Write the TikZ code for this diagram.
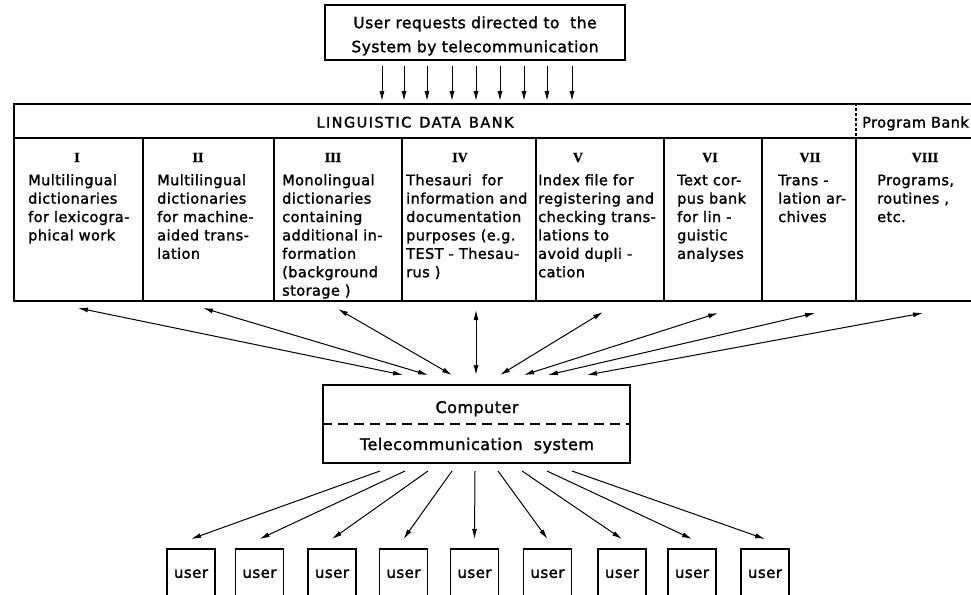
\documentclass[tikz,border=0pt]{standalone}
\usepackage{fontspec}
\setmainfont{DejaVu Sans}[LetterSpace=3.0, FakeBold=1.6]
\newfontfamily\numfont{Liberation Serif}[FakeBold=0.8]
\newfontfamily\hdrfont{DejaVu Sans}[LetterSpace=10.0, FakeBold=1.6]
\usetikzlibrary{arrows.meta}
\begin{document}
\begin{tikzpicture}[x=1pt,y=-1pt,
  framed/.style={draw, line width=1.7pt, inner sep=0pt},
  gridln/.style={line width=1.7pt},
  coltext/.style={anchor=north west, inner sep=0pt, align=left, font=\fontsize{14.5}{18.4}\selectfont},
  numeral/.style={anchor=base, inner sep=0pt, font=\numfont\bfseries\fontsize{14}{14}\selectfont},
  arr/.style={line width=1pt, -{Latex[length=10pt,width=5pt]}},
  barr/.style={line width=1pt, {Latex[length=10pt,width=5pt]}-{Latex[length=10pt,width=5pt]}},
  userbox/.style={draw, line width=1.5pt, inner sep=0pt, minimum width=48pt, minimum height=50pt, anchor=north, font=\fontsize{15}{15}\selectfont}
]
\useasboundingbox (0,0) rectangle (971,594);
\fill[white] (0,0) rectangle (971,594);

% request box
\node[framed, minimum width=300pt, minimum height=55pt] (req) at (475,32.5) {};
\node[anchor=north, inner sep=0pt, align=center, font=\fontsize{15.5}{24}\selectfont] (reqtxt) at (475,16)
  {\rule{0pt}{12pt}User requests directed to\ \ the\\System by telecommunication};

% data bank
\node[framed, minimum width=967pt, minimum height=197pt, anchor=north west] (bank) at (13,103) {};
\draw[gridln] (13,138) -- (980,138);
\foreach \x in {143,274,402,536,664,762,856} \draw[gridln] (\x,138) -- (\x,300);
\draw[line width=1.2pt, dash pattern=on 3pt off 2pt] (856,103) -- (856,138);
\node[anchor=base, inner sep=0pt, font=\hdrfont\fontsize{14.5}{14.5}\selectfont] (ldb) at (415,127.5)
  {LINGUISTIC\hspace{8pt}DATA\hspace{8pt}BANK};
\node[anchor=base west, inner sep=0pt, font=\fontsize{14.5}{14.5}\selectfont] (pbk) at (862,127.5) {Program Bank};

% numerals
\node[numeral] (n1) at (77,162) {I};
\node[numeral] (n2) at (198,162) {II};
\node[numeral] (n3) at (333,162) {III};
\node[numeral] (n4) at (460,162) {IV};
\node[numeral] (n5) at (578,162) {V};
\node[numeral] (n6) at (710,162) {VI};
\node[numeral] (n7) at (810,162) {VII};
\node[numeral] (n8) at (925,162) {VIII};

% column texts
\node[coltext] (c1t) at (28,173) {\rule{0pt}{12pt}Multilingual\\dictionaries\\for lexicogra-\\phical work};
\node[coltext] (c2t) at (157,173) {\rule{0pt}{12pt}Multilingual\\dictionaries\\for machine-\\aided trans-\\lation};
\node[coltext] (c3t) at (282,173) {\rule{0pt}{12pt}Monolingual\\dictionaries\\containing\\additional in-\\formation\\(background\\storage )};
\node[coltext] (c4t) at (406,173) {\rule{0pt}{12pt}Thesauri\ \ for\\information and\\documentation\\purposes (e.g.\\TEST - Thesau-\\rus )};
\node[coltext] (c5t) at (538,173) {\rule{0pt}{12pt}Index file for\\registering and\\checking trans-\\lations to\\avoid dupli -\\cation};
\node[coltext] (c6t) at (677,173) {\rule{0pt}{12pt}Text cor-\\pus bank\\for lin -\\guistic\\analyses};
\node[coltext] (c7t) at (778,173) {\rule{0pt}{12pt}Trans -\\lation ar-\\chives};
\node[coltext] (c8t) at (877,173) {\rule{0pt}{12pt}Programs,\\routines ,\\etc.};

% arrows from request box into bank
\foreach \i/\x in {1/382,2/404,3/427,4/452,5/476,6/500,7/524,8/547,9/572} {
  \coordinate (t\i) at (\x,66);
  \draw[arr, shorten >=2pt] (t\i) -- (t\i |- bank.north);
}

% computer box
\node[framed, minimum width=307pt, minimum height=78pt] (comp) at (476.5,424) {};
\draw[line width=1.2pt, dash pattern=on 10pt off 6pt] (comp.west) -- (comp.east);
\node[anchor=base, inner sep=0pt, font=\fontsize{16}{16}\selectfont] (comptxt) at (477,413) {Computer};
\node[anchor=base, inner sep=0pt, font=\fontsize{16}{16}\selectfont] (teltxt) at (477,450) {Telecommunication\ \ system};

% bank <-> computer arrows
\foreach \i/\bx/\by/\cx in {1/78/308/403, 2/203/308/428, 3/338/309/452, 4/476/310/476, 5/603/312/500, 6/718/313/524, 7/815/313/548, 8/923/313/587} {
  \coordinate (b\i) at (\bx,\by);
  \coordinate (k\i) at (\cx,375);
  \draw[barr] (b\i) -- (k\i);
}

% users
\foreach \i/\x in {1/191,2/259.5,3/332,4/403.5,5/474.5,6/547.5,7/622,8/692,9/765}
  \node[userbox] (u\i) at (\x,548) {user};

% computer -> users arrows
\foreach \i/\x in {1/380,2/405,3/428,4/452,5/475,6/498,7/522,8/547,9/572} {
  \coordinate (s\i) at (\x,471);
  \coordinate (e\i) at ([yshift=9pt]u\i.north);
  \draw[arr] (s\i) -- (e\i);
}
\end{tikzpicture}
\end{document}
